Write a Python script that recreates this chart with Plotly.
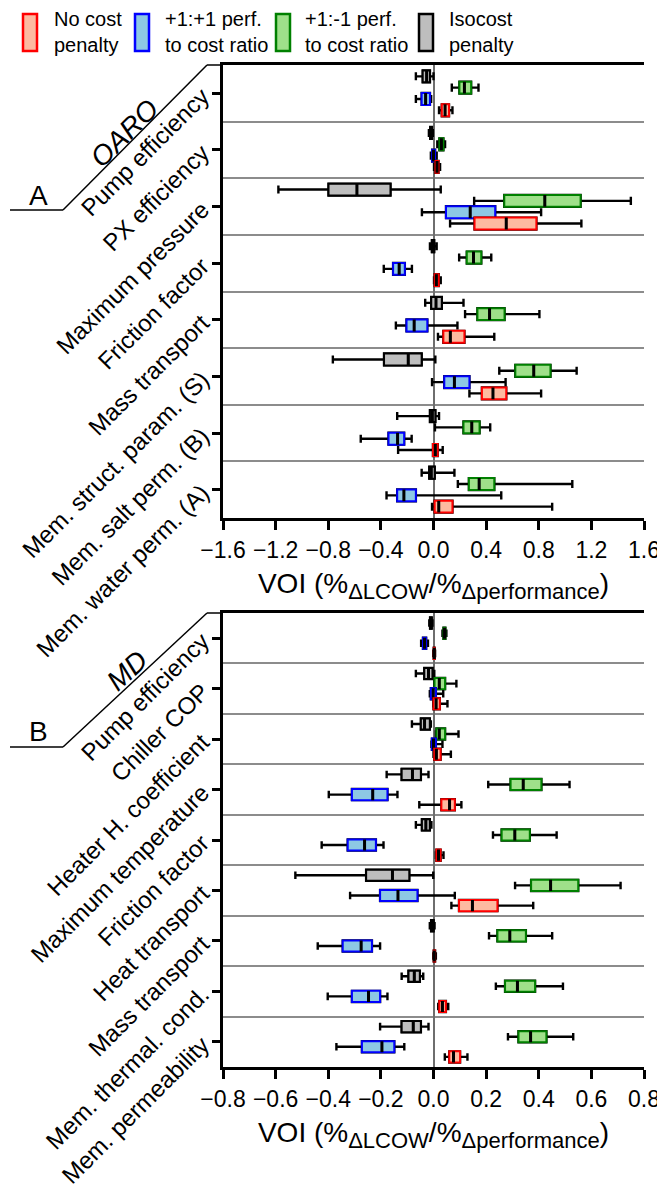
import plotly.graph_objects as go

# ---------------- data (lower fence, Q1, median, Q3, upper fence) ----------------
oaro_labels = ["Pump efficiency", "PX efficiency", "Maximum pressure", "Friction factor",
               "Mass transport", "Mem. struct. param. (S)", "Mem. salt perm. (B)",
               "Mem. water perm. (A)"]
md_labels = ["Pump efficiency", "Chiller COP", "Heater H. coefficient", "Maximum temperature",
             "Friction factor", "Heat transport", "Mass transport", "Mem. thermal. cond.",
             "Mem. permeability"]

oaro_no_cost = [(0.042, 0.063, 0.088, 0.118, 0.144), (0.004, 0.015, 0.027, 0.038, 0.05),
                (0.126, 0.312, 0.553, 0.782, 1.124), (0.004, 0.009, 0.022, 0.04, 0.055),
                (0.034, 0.075, 0.128, 0.235, 0.462), (0.273, 0.368, 0.452, 0.553, 0.818),
                (-0.269, -0.004, 0.014, 0.032, 0.07), (-0.011, 0.009, 0.04, 0.144, 0.902)]
oaro_pos_ratio = [(-0.134, -0.09, -0.06, -0.027, -0.018), (-0.02, -0.01, 0.0, 0.012, 0.024),
                  (-0.088, 0.095, 0.279, 0.469, 0.818), (-0.378, -0.307, -0.261, -0.218, -0.164),
                  (-0.286, -0.205, -0.147, -0.047, 0.182), (-0.011, 0.082, 0.159, 0.273, 0.548),
                  (-0.553, -0.342, -0.273, -0.223, -0.166), (-0.357, -0.276, -0.225, -0.134, 0.515)]
oaro_neg_ratio = [(0.139, 0.197, 0.235, 0.286, 0.342), (0.029, 0.045, 0.06, 0.075, 0.088),
                  (0.309, 0.538, 0.846, 1.118, 1.5), (0.195, 0.253, 0.304, 0.363, 0.439),
                  (0.24, 0.334, 0.426, 0.54, 0.805), (0.5, 0.622, 0.762, 0.889, 1.088),
                  (0.011, 0.228, 0.291, 0.35, 0.431), (0.185, 0.269, 0.347, 0.462, 1.055)]
oaro_isocost = [(-0.134, -0.082, -0.052, -0.027, 0.0), (-0.035, -0.025, -0.02, -0.012, -0.005),
                (-1.179, -0.798, -0.582, -0.327, 0.055), (-0.027, -0.012, -0.005, 0.005, 0.024),
                (-0.063, -0.017, 0.019, 0.063, 0.228), (-0.765, -0.376, -0.192, -0.09, 0.014),
                (-0.276, -0.027, -0.009, 0.014, 0.042), (-0.09, -0.032, -0.017, 0.009, 0.159)]

md_no_cost = [(-0.001, 0.001, 0.003, 0.004, 0.006), (-0.001, 0.0, 0.01, 0.024, 0.053),
              (0.0, 0.003, 0.011, 0.027, 0.066), (-0.054, 0.03, 0.061, 0.081, 0.106),
              (0.009, 0.011, 0.019, 0.027, 0.038), (0.068, 0.097, 0.148, 0.243, 0.379),
              (-0.001, 0.001, 0.003, 0.006, 0.009), (0.018, 0.022, 0.034, 0.047, 0.056),
              (0.043, 0.06, 0.076, 0.101, 0.129)]
md_pos_ratio = [(-0.047, -0.04, -0.034, -0.028, -0.021), (-0.014, -0.01, -0.001, 0.009, 0.037),
                (-0.008, -0.006, 0.0, 0.009, 0.034), (-0.398, -0.31, -0.231, -0.175, -0.137),
                (-0.425, -0.326, -0.262, -0.219, -0.19), (-0.317, -0.203, -0.135, -0.061, 0.081),
                (-0.44, -0.345, -0.275, -0.234, -0.203), (-0.402, -0.31, -0.247, -0.203, -0.175),
                (-0.369, -0.272, -0.196, -0.149, -0.111)]
md_neg_ratio = [(0.034, 0.038, 0.042, 0.045, 0.049), (0.003, 0.004, 0.022, 0.044, 0.087),
                (0.009, 0.011, 0.022, 0.044, 0.095), (0.208, 0.293, 0.341, 0.41, 0.517),
                (0.226, 0.259, 0.309, 0.366, 0.468), (0.31, 0.371, 0.445, 0.55, 0.711),
                (0.211, 0.243, 0.29, 0.351, 0.451), (0.237, 0.272, 0.319, 0.386, 0.492),
                (0.283, 0.323, 0.369, 0.429, 0.531)]
md_isocost = [(-0.016, -0.013, -0.01, -0.007, -0.004), (-0.067, -0.035, -0.019, -0.004, 0.003),
              (-0.082, -0.048, -0.034, -0.014, -0.01), (-0.178, -0.121, -0.08, -0.048, -0.019),
              (-0.067, -0.044, -0.029, -0.014, -0.008), (-0.525, -0.256, -0.156, -0.092, -0.001),
              (-0.014, -0.009, -0.005, 0.0, 0.004), (-0.121, -0.095, -0.073, -0.052, -0.039),
              (-0.203, -0.121, -0.077, -0.048, -0.019)]

oaro_ticks = [-1.6, -1.2, -0.8, -0.4, 0.0, 0.4, 0.8, 1.2, 1.6]
md_ticks = [-0.8, -0.6, -0.4, -0.2, 0.0, 0.2, 0.4, 0.6, 0.8]

legend_names = ["No cost<br>penalty", "+1:+1 perf.<br>to cost ratio",
                "+1:-1 perf.<br>to cost ratio", "Isocost<br>penalty"]

# ---------------- styles ----------------
FONT = "Liberation Sans, Arial, sans-serif"
styles = {
    "iso": dict(edge="#000000", fill="#BEBEBE", off=-0.3),
    "neg": dict(edge="#008000", fill="#9FE08A", off=-0.1),
    "pos": dict(edge="#0000FF", fill="#8DC8E4", off=0.1),
    "no": dict(edge="#FF0000", fill="#FDBAA0", off=0.3),
}

# the page body has an 8px margin: size the figure so it lands where the reference is
OFF = 8
W, H = 665 - OFF, 1191 - OFF
PLOT_L, PLOT_R, PLOT_T, PLOT_B = 223, 644, 65, 1067   # in page pixels
ML, MT = PLOT_L - OFF, PLOT_T - OFF
MR, MB = W - (PLOT_R - OFF), H - (PLOT_B - OFF)
PW, PH = PLOT_R - PLOT_L, PLOT_B - PLOT_T


def px(x):
    return (x - PLOT_L) / PW


def py(y):
    return (PLOT_B - y) / PH


fig = go.Figure()


def add_group(rows, key, xa, ya, bw):
    st = styles[key]
    pos = [i + st["off"] for i in range(len(rows))]
    lf = [r[0] for r in rows]
    q1 = [r[1] for r in rows]
    md = [r[2] for r in rows]
    q3 = [r[3] for r in rows]
    uf = [r[4] for r in rows]
    common = dict(orientation="h", y=pos, xaxis=xa, yaxis=ya, width=bw, boxpoints=False,
                  showlegend=False, hoverinfo="skip")
    fig.add_trace(go.Box(q1=q1, median=md, q3=q3, lowerfence=lf, upperfence=uf,
                         whiskerwidth=0.68, line=dict(color="black", width=2.4),
                         fillcolor="rgba(0,0,0,0)", **common))
    fig.add_trace(go.Box(q1=q1, median=md, q3=q3, lowerfence=q1, upperfence=q3,
                         whiskerwidth=0, line=dict(color=st["edge"], width=2),
                         fillcolor=st["fill"], **common))
    fig.add_trace(go.Box(q1=md, median=md, q3=md, lowerfence=md, upperfence=md,
                         whiskerwidth=0, line=dict(color="black", width=3),
                         fillcolor="rgba(0,0,0,0)", **common))


for rows, key in [(oaro_isocost, "iso"), (oaro_neg_ratio, "neg"), (oaro_pos_ratio, "pos"),
                  (oaro_no_cost, "no")]:
    add_group(rows, key, "x", "y", 0.21)
for rows, key in [(md_isocost, "iso"), (md_neg_ratio, "neg"), (md_pos_ratio, "pos"),
                  (md_no_cost, "no")]:
    add_group(rows, key, "x2", "y2", 0.22)

title_text = ("VOI (%<sub><span style='font-size:22px'>ΔLCOW</span></sub>/%"
              "<sub><span style='font-size:22px'>Δperformance</span></sub>)")


def xaxis_cfg(rng, ticks, anchor):
    return dict(range=rng, tickvals=ticks, tickformat=".1f", ticks="outside", ticklen=9,
                tickwidth=3, tickcolor="black", showline=True, linewidth=3, linecolor="black",
                mirror=True, showgrid=False, zeroline=True, zerolinecolor="#6E6E6E",
                zerolinewidth=2, anchor=anchor, tickfont=dict(size=23, color="black"),
                title=dict(text=title_text, font=dict(size=28, color="black"), standoff=12),
                automargin=False)


def yaxis_cfg(labels, dom):
    n = len(labels)
    return dict(domain=dom, range=[n - 0.5, -0.5], tickvals=list(range(n)), ticktext=labels,
                tickangle=-45, ticks="outside", ticklen=8, tickwidth=3, tickcolor="black",
                ticklabelstandoff=5,
                showline=True, linewidth=3, linecolor="black", showgrid=False, zeroline=False,
                tickfont=dict(size=24, color="black"), automargin=False,
                minor=dict(tickmode="array", tickvals=[i + 0.5 for i in range(n - 1)],
                           showgrid=True, gridcolor="#8C8C8C", gridwidth=2, ticks=""))


fig.update_layout(
    width=W, height=H, margin=dict(l=ML, r=MR, t=MT, b=MB),
    paper_bgcolor="white", plot_bgcolor="white", boxmode="overlay",
    font=dict(family=FONT, color="black"), showlegend=False,
    xaxis=xaxis_cfg([-1.6, 1.6], oaro_ticks, "y"),
    yaxis=yaxis_cfg(oaro_labels, [py(518), 1.0]),
    xaxis2=xaxis_cfg([-0.8, 0.8], md_ticks, "y2"),
    yaxis2=yaxis_cfg(md_labels, [0.0, py(613)]),
)

shapes = []
annotations = []

# panel decorations (A / OARO, B / MD)
for (ylow, ytop, letter, name, ncx, ncy, ang) in [(210, 65, "A", "OARO", 124, 133, -45),
                                                   (747, 613, "B", "MD", 127, 670, -43)]:
    pts = [(10, ylow), (63, ylow), (207, ytop), (PLOT_L, ytop)]
    for (xa, ya), (xb, yb) in zip(pts[:-1], pts[1:]):
        shapes.append(dict(type="line", xref="paper", yref="paper", x0=px(xa), y0=py(ya),
                           x1=px(xb), y1=py(yb), line=dict(color="black", width=1.5)))
    annotations.append(dict(text=letter, x=px(38), y=py(ylow - 15), xref="paper", yref="paper",
                            xanchor="center", yanchor="middle", showarrow=False,
                            font=dict(size=28, color="black")))
    annotations.append(dict(text=f"<i>{name}</i>", x=px(ncx), y=py(ncy), xref="paper",
                            yref="paper", xanchor="center", yanchor="middle", showarrow=False,
                            textangle=ang, font=dict(size=28, color="black")))

# manual legend
leg_x = [23, 135, 276, 419]
leg_tx = [52, 163, 303, 447]
for key, lx, tx, name in zip(["no", "pos", "neg", "iso"], leg_x, leg_tx, legend_names):
    st = styles[key]
    shapes.append(dict(type="rect", xref="paper", yref="paper", x0=px(lx), x1=px(lx + 14),
                       y0=py(51), y1=py(14), fillcolor=st["fill"],
                       line=dict(color=st["edge"], width=2.5)))
    annotations.append(dict(text=name, x=px(tx), y=py(32), xref="paper", yref="paper",
                            xanchor="left", yanchor="middle", align="left", showarrow=False,
                            font=dict(size=20, color="black")))

fig.update_layout(shapes=shapes, annotations=annotations)
fig.write_html("out.html")
